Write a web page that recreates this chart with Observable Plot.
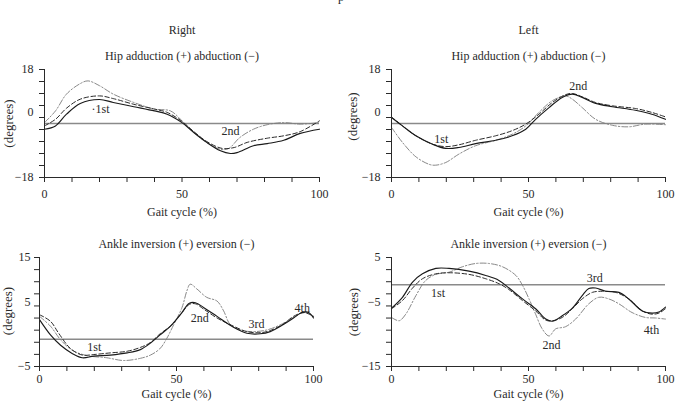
<!DOCTYPE html>
<html>
<head>
<meta charset="utf-8">
<script src="https://cdn.jsdelivr.net/npm/d3@7"></script>
<script src="https://cdn.jsdelivr.net/npm/@observablehq/plot@0.6"></script>
<style>
  html, body { margin: 0; padding: 0; background: #fff; }
  #chart { position: relative; width: 675px; height: 402px; overflow: hidden; background: #fff;
           font-family: "Liberation Serif", "DejaVu Serif", serif; color: #222; }
  #chart > svg { position: absolute; }
  #cut { position: absolute; left: 338px; top: -9px; font-size: 12px; line-height: 12px; }
</style>
</head>
<body>
<div id="chart"><div id="cut">p</div></div>
<script>
// ---- Data ----
const sides = ["Right", "Left"];
const hipTitle = "Hip adduction (+) abduction (−)";
const ankleTitle = "Ankle inversion (+) eversion (−)";
const xLabel = "Gait cycle (%)";
const yLabel = "(degrees)";
const xTickLabels = [0, 50, 100];
const xTickMarks = [0, 10, 20, 30, 40, 50, 60, 70, 80, 90, 100];

const hipDomain = [-18, 18];
const hipTickLabels = [-18, 0, 18];
const rightAnkleDomain = [-5, 15];
const rightAnkleTickLabels = [-5, 5, 15];
const leftAnkleDomain = [-15, 5];
const leftAnkleTickLabels = [-15, -5, 5];

// Right hip
const rightHipSolid = [[0,-1.9],[4,-0.8],[8,3.1],[13,6.7],[20,8],[25,7],[32.5,5.6],[40,4.2],[44.6,3.1],[50,0.3],[54.3,-3],[59,-6.3],[64,-9.1],[67.6,-10],[70,-9.7],[76,-7.4],[81,-6.7],[87,-5.6],[93,-3.3],[100,-1.9]];
const rightHipDashed = [[0,-0.8],[4,1.4],[8,5.1],[13,8.1],[20,9.2],[25,8.3],[32.5,6.4],[40,4.8],[44.6,3.7],[50,0.7],[54.3,-2.7],[59,-6],[64.6,-8.3],[69,-8],[73.7,-6.3],[81,-4.9],[87,-4.1],[93,-2.7],[100,0.9]];
const rightHipDashDot = [[0,0.3],[4,4.2],[8,9.8],[13,13.3],[15.8,14.2],[20,12.6],[25,9.8],[32.5,7],[40,4.8],[45.8,4.2],[50,0.9],[54.3,-3],[59,-6.3],[64,-8.6],[67,-8.3],[71,-4.7],[76,-1.9],[81,-0.4],[87,0.3],[93,-0.2],[100,0.3]];
// Left hip
const leftHipSolid = [[0,2],[4,-0.8],[8.9,-4.1],[15,-6.9],[19.8,-8.3],[24.6,-8],[30.7,-6.7],[38,-5.6],[44,-4.1],[49,-1.9],[52.6,1.4],[57.5,5.3],[62.3,8.7],[66,9.8],[69.6,8.7],[74.5,6.7],[80.6,5.6],[89,4.4],[95,3.1],[100,1.4]];
const leftHipDashed = [[0,2.2],[4,-0.8],[8.9,-4.1],[15,-6.9],[19.8,-7.7],[24.6,-7.1],[30.7,-5.6],[38,-4.1],[44,-2.4],[49,-0.2],[53.8,3.1],[58.7,7],[63.5,9.6],[66,10],[69.6,8.9],[74.5,7],[80.6,5.9],[89,5],[95,3.7],[100,2.2]];
const leftHipDashDot = [[0,-1.3],[4,-6.3],[8.9,-11.1],[13.7,-13.6],[16,-13.9],[19.8,-13],[24.6,-10.2],[30.7,-7.4],[38,-5.6],[44,-3.6],[49,-0.8],[53.8,3.7],[58.7,7.6],[63.5,9.2],[66,8.1],[69.6,5.3],[74.5,1.4],[80.6,-0.6],[86.6,-1.1],[92.7,-0.2],[100,-0.4]];
// Right ankle
const rightAnkleSolid = [[0,3.6],[4,0.8],[7.7,-1.1],[11.9,-2.6],[15.6,-3.4],[19.8,-3.1],[25.9,-2.9],[32,-2.5],[36.8,-1.9],[40.5,-0.7],[44,0.8],[47.8,2.4],[51.4,4.5],[54.7,6.6],[56.9,6.7],[60,5.8],[64.8,4.2],[70.8,2.2],[75.7,1.1],[80.6,1],[84.2,1.4],[89,2.7],[92.7,3.9],[95.7,4.9],[98.2,4.9],[100,3.9]];
const rightAnkleDashed = [[0,4.5],[4,3.3],[7,1.1],[11.3,-1.7],[15.6,-2.9],[19.8,-2.8],[25.9,-2.5],[32,-2.2],[36.8,-1.5],[40.5,-0.6],[44,1],[47.8,2.4],[51.4,4.5],[54.7,6.4],[56.9,6.5],[60,5.5],[64.8,3.9],[70.8,2.4],[75.7,1.4],[80.6,1.2],[84.2,1.6],[89,2.8],[92.7,4.2],[96.6,4.9],[100,4.2]];
const rightAnkleDashDot = [[0,4.2],[4,2.4],[7.7,-0.1],[11.9,-2],[17.3,-3],[24.6,-3.4],[30.7,-3.9],[36.8,-3.5],[40.5,-2.9],[44,-1.7],[46.5,0.2],[49,2.7],[52,5.8],[53.8,8.9],[55,10.1],[57.5,9.2],[61,7.7],[64.8,7],[67.2,5.2],[69.6,2.7],[73.3,1.7],[78,1.4],[82.9,1.7],[87.7,2.6],[92.7,4],[96.6,4.9],[100,4.2]];
// Left ankle
const leftAnkleSolid = [[0,-4.3],[4,-2.3],[7.7,0.5],[11.3,2],[16.2,3],[21,3],[28.3,2.5],[34.4,1.7],[39.2,0.8],[42.9,-0.6],[47.8,-2.6],[52.6,-4.4],[56.3,-6.3],[58.7,-6.7],[62.3,-5.7],[66,-4.3],[69.6,-2],[72,-0.7],[74.5,-0.6],[78.2,-1.2],[83,-1.4],[86.6,-2.6],[91.5,-4.8],[95.1,-5.2],[97.6,-5],[100,-4.1]];
const leftAnkleDashed = [[0,-4.4],[4,-2.9],[7.7,-0.6],[11.3,1.1],[16.2,2],[21,2.2],[28.3,1.9],[34.4,1.1],[39.2,0.2],[42.9,-0.9],[47.8,-2.9],[52.6,-4.8],[56.3,-6.5],[58.7,-6.6],[62.3,-6],[66,-4.4],[69.6,-2.6],[73.3,-1.4],[77,-1.2],[81.8,-1.4],[86.6,-2.6],[91.5,-4.8],[95.1,-5.4],[97.6,-5.2],[100,-4.4]];
const leftAnkleDashDot = [[0,-6],[2.8,-6.6],[5.2,-5.4],[8.9,-2],[12.5,0.8],[16.2,1.9],[21,2.3],[25.9,3.3],[30.7,3.9],[35.6,3.9],[40.5,3.3],[45.4,1.7],[47.8,-0.1],[50.2,-2.6],[52.6,-5.4],[55,-8.1],[57.5,-9.4],[59.9,-8.1],[63.5,-7.7],[67.2,-6.3],[72,-3.5],[75.7,-2.3],[79.3,-2.6],[83,-3.5],[87.8,-5.1],[92.7,-6],[96.4,-6.1],[100,-6.3]];

// Annotations: [x, y, text]
const rightHipNotes = [[20.4,4.7,"·1st"],[67.6,-2.7,"2nd"]];
const leftHipNotes = [[18.2,-5.3,"1st"],[68.2,12.3,"2nd"]];
const rightAnkleNotes = [[20,-1.5,"1st"],[58.5,3.8,"2nd"],[79.2,2.7,"3rd"],[95.9,5.7,"4th"]];
const leftAnkleNotes = [[17,-1.6,"1st"],[58.4,-11,"2nd"],[74.2,1.3,"3rd"],[94.9,-8.3,"4th"]];

// ---- Rendering ----
const FONT = '"Liberation Serif", "DejaVu Serif", serif';
const INK = "#2a2a2a";
const FS = 12;

function panel(cfg) {
  const [lo, hi] = cfg.domain;
  const minor = d3.range(10).map(i => lo + i * (hi - lo) / 9);
  const [l0, lMid, l1] = cfg.tickLabels;
  const label = (txt, o) => Plot.text([txt], {fontSize: FS, fill: INK, lineAnchor: "middle", textAnchor: "middle", ...o});
  const marks = [
    Plot.ruleY([0], {stroke: "#8a8a8a", strokeWidth: 1.6}),
    Plot.line(cfg.dashdot, {x: d => d[0], y: d => d[1], curve: "catmull-rom", stroke: "#7a7a7a", strokeWidth: 0.9, strokeDasharray: "6,2,1.5,2"}),
    Plot.line(cfg.dashed, {x: d => d[0], y: d => d[1], curve: "catmull-rom", stroke: "#2a2a2a", strokeWidth: 1, strokeDasharray: "4.5,2.5"}),
    Plot.line(cfg.solid, {x: d => d[0], y: d => d[1], curve: "catmull-rom", stroke: "#1a1a1a", strokeWidth: 1.15}),
    Plot.ruleX([0], {stroke: INK, strokeWidth: 1}),
    Plot.ruleY([lo], {stroke: INK, strokeWidth: 1}),
    Plot.axisX({ticks: xTickMarks, tickSize: 5, tickFormat: () => "", label: null, stroke: INK}),
    Plot.axisX({ticks: xTickLabels, tickSize: 0, tickPadding: cfg.xPad, label: null, fontSize: FS, fill: INK}),
    Plot.axisY({ticks: minor, tickSize: 5, tickFormat: () => "", label: null, stroke: INK}),
    Plot.axisY({ticks: [l0, l1], tickSize: 0, tickPadding: cfg.yPad, label: null, fontSize: FS, fill: INK}),
    Plot.axisY({ticks: [lMid], tickSize: 0, tickPadding: cfg.yPad, dy: cfg.midDy, label: null, fontSize: FS, fill: INK}),
    label(cfg.title, {frameAnchor: "top", dy: cfg.titleDy}),
    label(xLabel, {frameAnchor: "bottom", dy: cfg.xLabDy}),
    label(yLabel, {frameAnchor: "left", dx: cfg.yLabDx, dy: cfg.yLabDy, rotate: -90, fontSize: 13}),
    Plot.text(cfg.notes, {x: d => d[0], y: d => d[1], text: d => d[2], fontSize: FS, fill: INK})
  ];
  if (cfg.header) marks.push(label(cfg.header, {frameAnchor: "top", dy: cfg.headerDy}));
  const svg = Plot.plot({
    width: cfg.width, height: cfg.height,
    marginLeft: cfg.ml, marginRight: cfg.mr, marginTop: cfg.mt, marginBottom: cfg.mb,
    x: {domain: [0, 100]},
    y: {domain: cfg.domain},
    style: {fontFamily: FONT, fontSize: FS + "px", color: INK, background: "transparent", overflow: "visible"},
    marks
  });
  svg.style.left = cfg.left + "px";
  svg.style.top = cfg.top + "px";
  document.getElementById("chart").appendChild(svg);
}

panel({left: 0, top: 0, width: 337, height: 220, ml: 44, mr: 18, mt: 69, mb: 43,
  domain: hipDomain, tickLabels: hipTickLabels, solid: rightHipSolid, dashed: rightHipDashed, dashdot: rightHipDashDot,
  notes: rightHipNotes, header: sides[0], headerDy: -39, title: hipTitle, titleDy: -13, xLabDy: 35, xPad: 12, yPad: 11,
  midDy: -11, yLabDx: -36, yLabDy: 0});
panel({left: 337, top: 0, width: 338, height: 220, ml: 54, mr: 10, mt: 69, mb: 43,
  domain: hipDomain, tickLabels: hipTickLabels, solid: leftHipSolid, dashed: leftHipDashed, dashdot: leftHipDashDot,
  notes: leftHipNotes, header: sides[1], headerDy: -39, title: hipTitle, titleDy: -13, xLabDy: 35, xPad: 12, yPad: 11,
  midDy: -11, yLabDx: -39, yLabDy: -7});
panel({left: 0, top: 220, width: 337, height: 182, ml: 39, mr: 24, mt: 37, mb: 36,
  domain: rightAnkleDomain, tickLabels: rightAnkleTickLabels, solid: rightAnkleSolid, dashed: rightAnkleDashed, dashdot: rightAnkleDashDot,
  notes: rightAnkleNotes, title: ankleTitle, titleDy: -13, xLabDy: 28, xPad: 8, yPad: 9,
  midDy: -10, yLabDx: -32, yLabDy: -1});
panel({left: 337, top: 220, width: 338, height: 182, ml: 54, mr: 10, mt: 37, mb: 36,
  domain: leftAnkleDomain, tickLabels: leftAnkleTickLabels, solid: leftAnkleSolid, dashed: leftAnkleDashed, dashdot: leftAnkleDashDot,
  notes: leftAnkleNotes, title: ankleTitle, titleDy: -13, xLabDy: 28, xPad: 8, yPad: 11,
  midDy: -10, yLabDx: -38, yLabDy: 0});
</script>
</body>
</html>
